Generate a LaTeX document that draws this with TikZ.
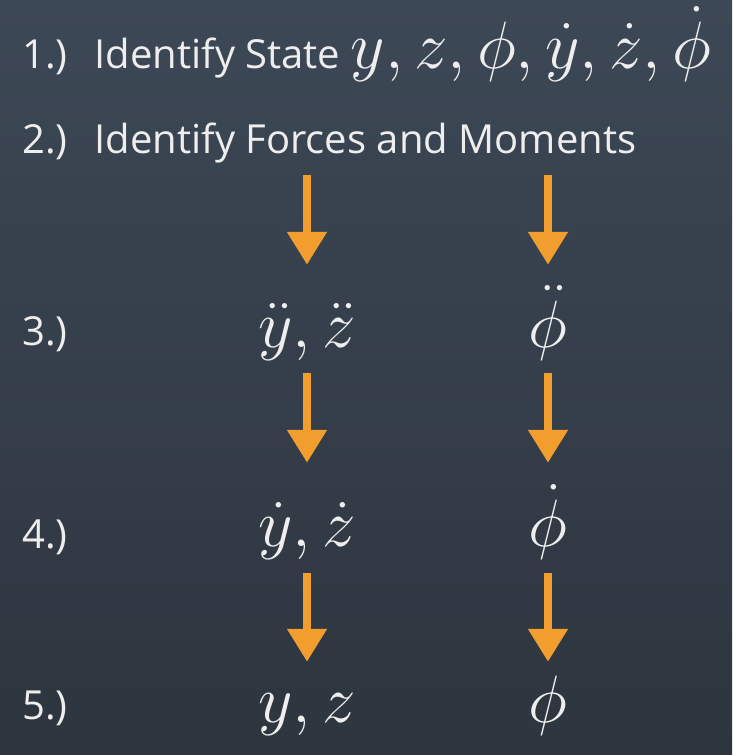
\documentclass[tikz,border=0pt]{standalone}
\usepackage{fix-cm}
\usepackage{fontspec}
\setmainfont{Open Sans}
\usetikzlibrary{arrows.meta}
\definecolor{bgtop}{HTML}{3D4856}
\definecolor{bgbot}{HTML}{2D353E}
\definecolor{flowor}{HTML}{F29E2E}
\definecolor{txt}{HTML}{EEEEEE}
\newcommand{\bigmath}{\fontsize{67}{80}\selectfont}

\begin{document}
\begin{tikzpicture}[x=1pt,y=-1pt,
    lbl/.style={anchor=base west,inner sep=0pt,text=txt,font=\fontsize{40}{48}\selectfont},
    val/.style={anchor=base,inner sep=0pt,text=txt,text height=50pt,text depth=14pt,font=\bigmath},
    flow/.style={draw=flowor,line width=8pt,-{Triangle[width=38pt,length=33pt]}}]
    \shade[top color=bgtop,bottom color=bgbot] (0,0) rectangle (732,755);

    % steps 1 and 2
    \node[lbl] (s1) at (22,68) {1.)\hspace{27pt}Identify State {\bigmath$y, z, \phi, \dot{y}, \dot{z}, \dot{\phi}$}};
    \node[lbl] (s2) at (22,153) {2.)\hspace{27pt}Identify Forces and Moments};
    \coordinate (fl) at (307,175);
    \coordinate (fr) at (548,175);

    % steps 3 to 5
    \node[lbl] (s3) at (22,345) {3.)};
    \node[lbl] (s4) at (22,548) {4.)};
    \node[lbl] (s5) at (22,719) {5.)};

    \node[val] (a3) at (307,347) {$\ddot{y}, \ddot{z}$};
    \node[val] (b3) at (548,347) {$\ddot{\phi}$};
    \node[val] (a4) at (307,546) {$\dot{y}, \dot{z}$};
    \node[val] (b4) at (548,546) {$\dot{\phi}$};
    \node[val] (a5) at (307,722) {$y, z$};
    \node[val] (b5) at (548,722) {$\phi$};

    % arrows
    \draw[flow,shorten >=32pt] (fl) -- (a3.north);
    \draw[flow,shorten >=32pt] (fr) -- (b3.north);
    \draw[flow,shorten <=12pt,shorten >=33pt] (a3.south) -- (a4.north);
    \draw[flow,shorten <=12pt,shorten >=33pt] (b3.south) -- (b4.north);
    \draw[flow,shorten <=13pt,shorten >=10pt] (a4.south) -- (a5.north);
    \draw[flow,shorten <=13pt,shorten >=10pt] (b4.south) -- (b5.north);
\end{tikzpicture}
\end{document}
